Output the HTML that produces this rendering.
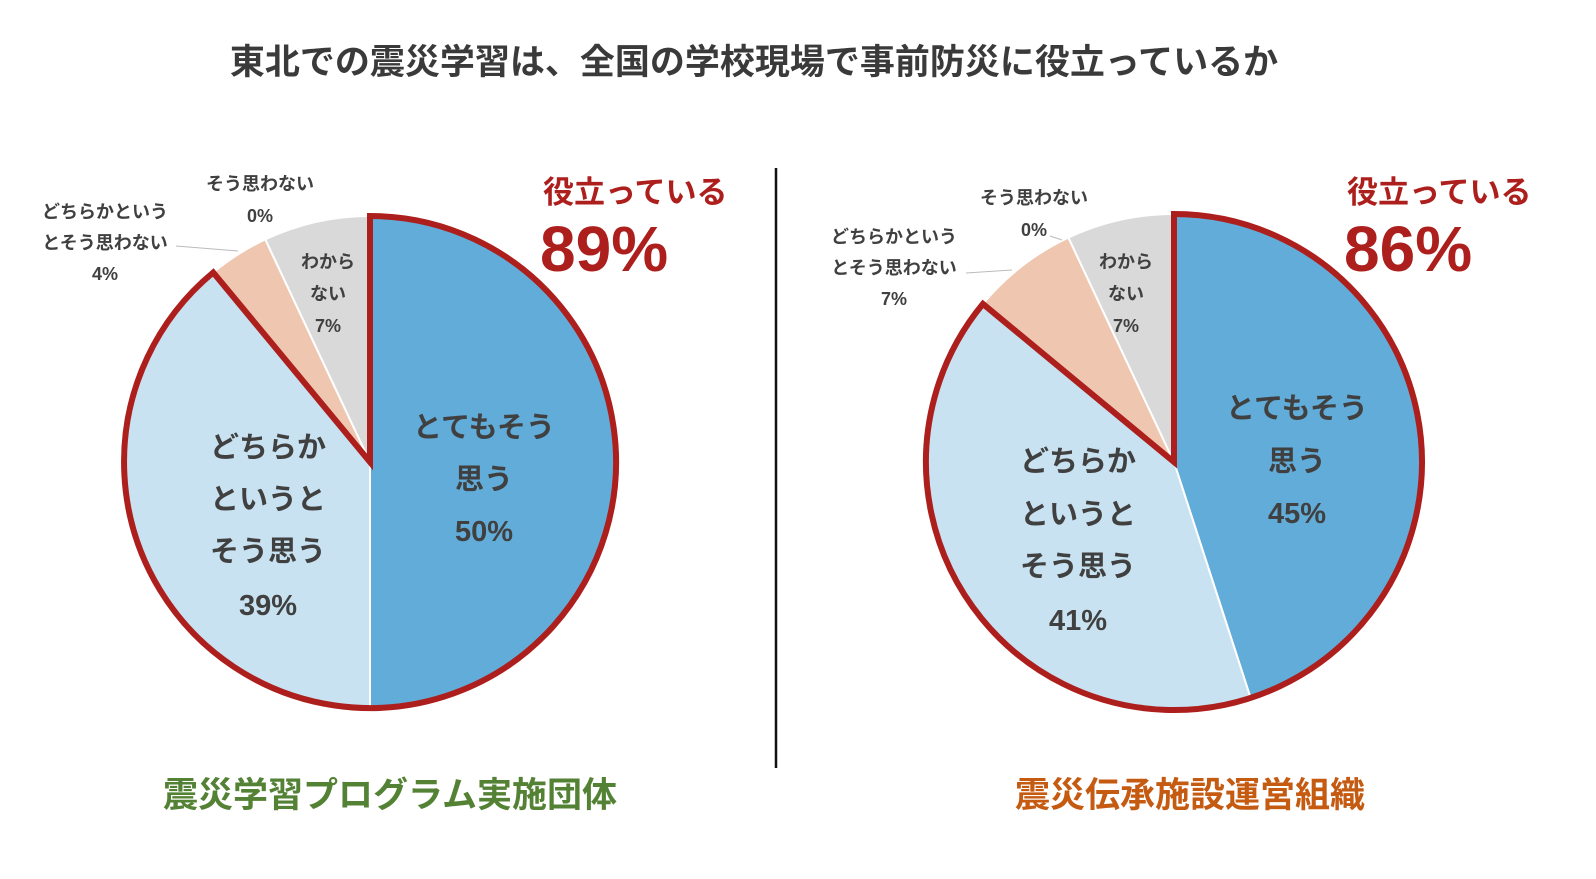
<!DOCTYPE html>
<html><head><meta charset="utf-8"><style>
body{margin:0;background:#fff;}
svg text{font-family:"Liberation Sans","Noto Sans CJK JP",sans-serif;font-weight:bold;}
</style></head><body>
<svg width="1596" height="874" viewBox="0 0 1596 874" xmlns="http://www.w3.org/2000/svg">
<rect width="1596" height="874" fill="#fff"/>
<text x="754" y="74" font-size="35" fill="#3a3a3a" text-anchor="middle">東北での震災学習は、全国の学校現場で事前防災に役立っているか</text>
<line x1="776" y1="168" x2="776" y2="768" stroke="#111" stroke-width="2.5"/>

<!-- Left pie -->
<g stroke="#fff" stroke-width="2">
<path d="M370,462 L370,216 A246,246 0 0 1 370,708 Z" fill="#62acd9"/>
<path d="M370,462 L370,708 A246,246 0 0 1 213.2,272.5 Z" fill="#c8e2f1"/>
<path d="M370,462 L213.2,272.5 A246,246 0 0 1 265.3,239.4 Z" fill="#efc7b0"/>
<path d="M370,462 L265.3,239.4 A246,246 0 0 1 370,216 Z" fill="#d9d9d9"/>
</g>
<path d="M370,462 L370,216 A246,246 0 1 1 213.2,272.5 Z" fill="none" stroke="#ad1f1c" stroke-width="6" stroke-linejoin="miter"/>
<g font-size="29" fill="#404040" text-anchor="middle">
<text x="484" y="437">とてもそう</text><text x="484" y="489">思う</text><text x="484" y="541">50%</text>
<text x="268" y="457">どちらか</text><text x="268" y="509">というと</text><text x="268" y="561">そう思う</text><text x="268" y="615">39%</text>
</g>
<g font-size="18" fill="#404040" text-anchor="middle">
<text x="328" y="268">わから</text><text x="328" y="300">ない</text><text x="328" y="332">7%</text>
<text x="260" y="190">そう思わない</text><text x="260" y="222">0%</text>
<text x="105" y="218">どちらかという</text><text x="105" y="249">とそう思わない</text><text x="105" y="280">4%</text>
</g>
<line x1="176" y1="246" x2="238" y2="251" stroke="#bbb" stroke-width="1"/>
<text x="543" y="203" font-size="31" fill="#ad1f1c">役立っている</text>
<text x="540" y="271" font-size="64" fill="#ad1f1c">89%</text>
<text x="390" y="807" font-size="35" fill="#548235" text-anchor="middle">震災学習プログラム実施団体</text>

<!-- Right pie -->
<g stroke="#fff" stroke-width="2">
<path d="M1174,462 L1174,214 A248,248 0 0 1 1250.6,697.9 Z" fill="#62acd9"/>
<path d="M1174,462 L1250.6,697.9 A248,248 0 0 1 982.9,303.9 Z" fill="#c8e2f1"/>
<path d="M1174,462 L982.9,303.9 A248,248 0 0 1 1068.4,237.6 Z" fill="#efc7b0"/>
<path d="M1174,462 L1068.4,237.6 A248,248 0 0 1 1174,214 Z" fill="#d9d9d9"/>
</g>
<path d="M1174,462 L1174,214 A248,248 0 1 1 982.9,303.9 Z" fill="none" stroke="#ad1f1c" stroke-width="6" stroke-linejoin="miter"/>
<g font-size="29" fill="#404040" text-anchor="middle">
<text x="1297" y="418">とてもそう</text><text x="1297" y="471">思う</text><text x="1297" y="523">45%</text>
<text x="1078" y="471">どちらか</text><text x="1078" y="524">というと</text><text x="1078" y="576">そう思う</text><text x="1078" y="630">41%</text>
</g>
<g font-size="18" fill="#404040" text-anchor="middle">
<text x="1126" y="268">わから</text><text x="1126" y="300">ない</text><text x="1126" y="332">7%</text>
<text x="1034" y="204">そう思わない</text><text x="1034" y="236">0%</text>
<text x="894" y="243">どちらかという</text><text x="894" y="274">とそう思わない</text><text x="894" y="305">7%</text>
</g>
<line x1="966" y1="273" x2="1012" y2="270" stroke="#bbb" stroke-width="1"/>
<line x1="1050" y1="236" x2="1062" y2="240" stroke="#bbb" stroke-width="1"/>
<text x="1347" y="203" font-size="31" fill="#ad1f1c">役立っている</text>
<text x="1344" y="271" font-size="64" fill="#ad1f1c">86%</text>
<text x="1190" y="807" font-size="35" fill="#c55a11" text-anchor="middle">震災伝承施設運営組織</text>
</svg>
</body></html>
